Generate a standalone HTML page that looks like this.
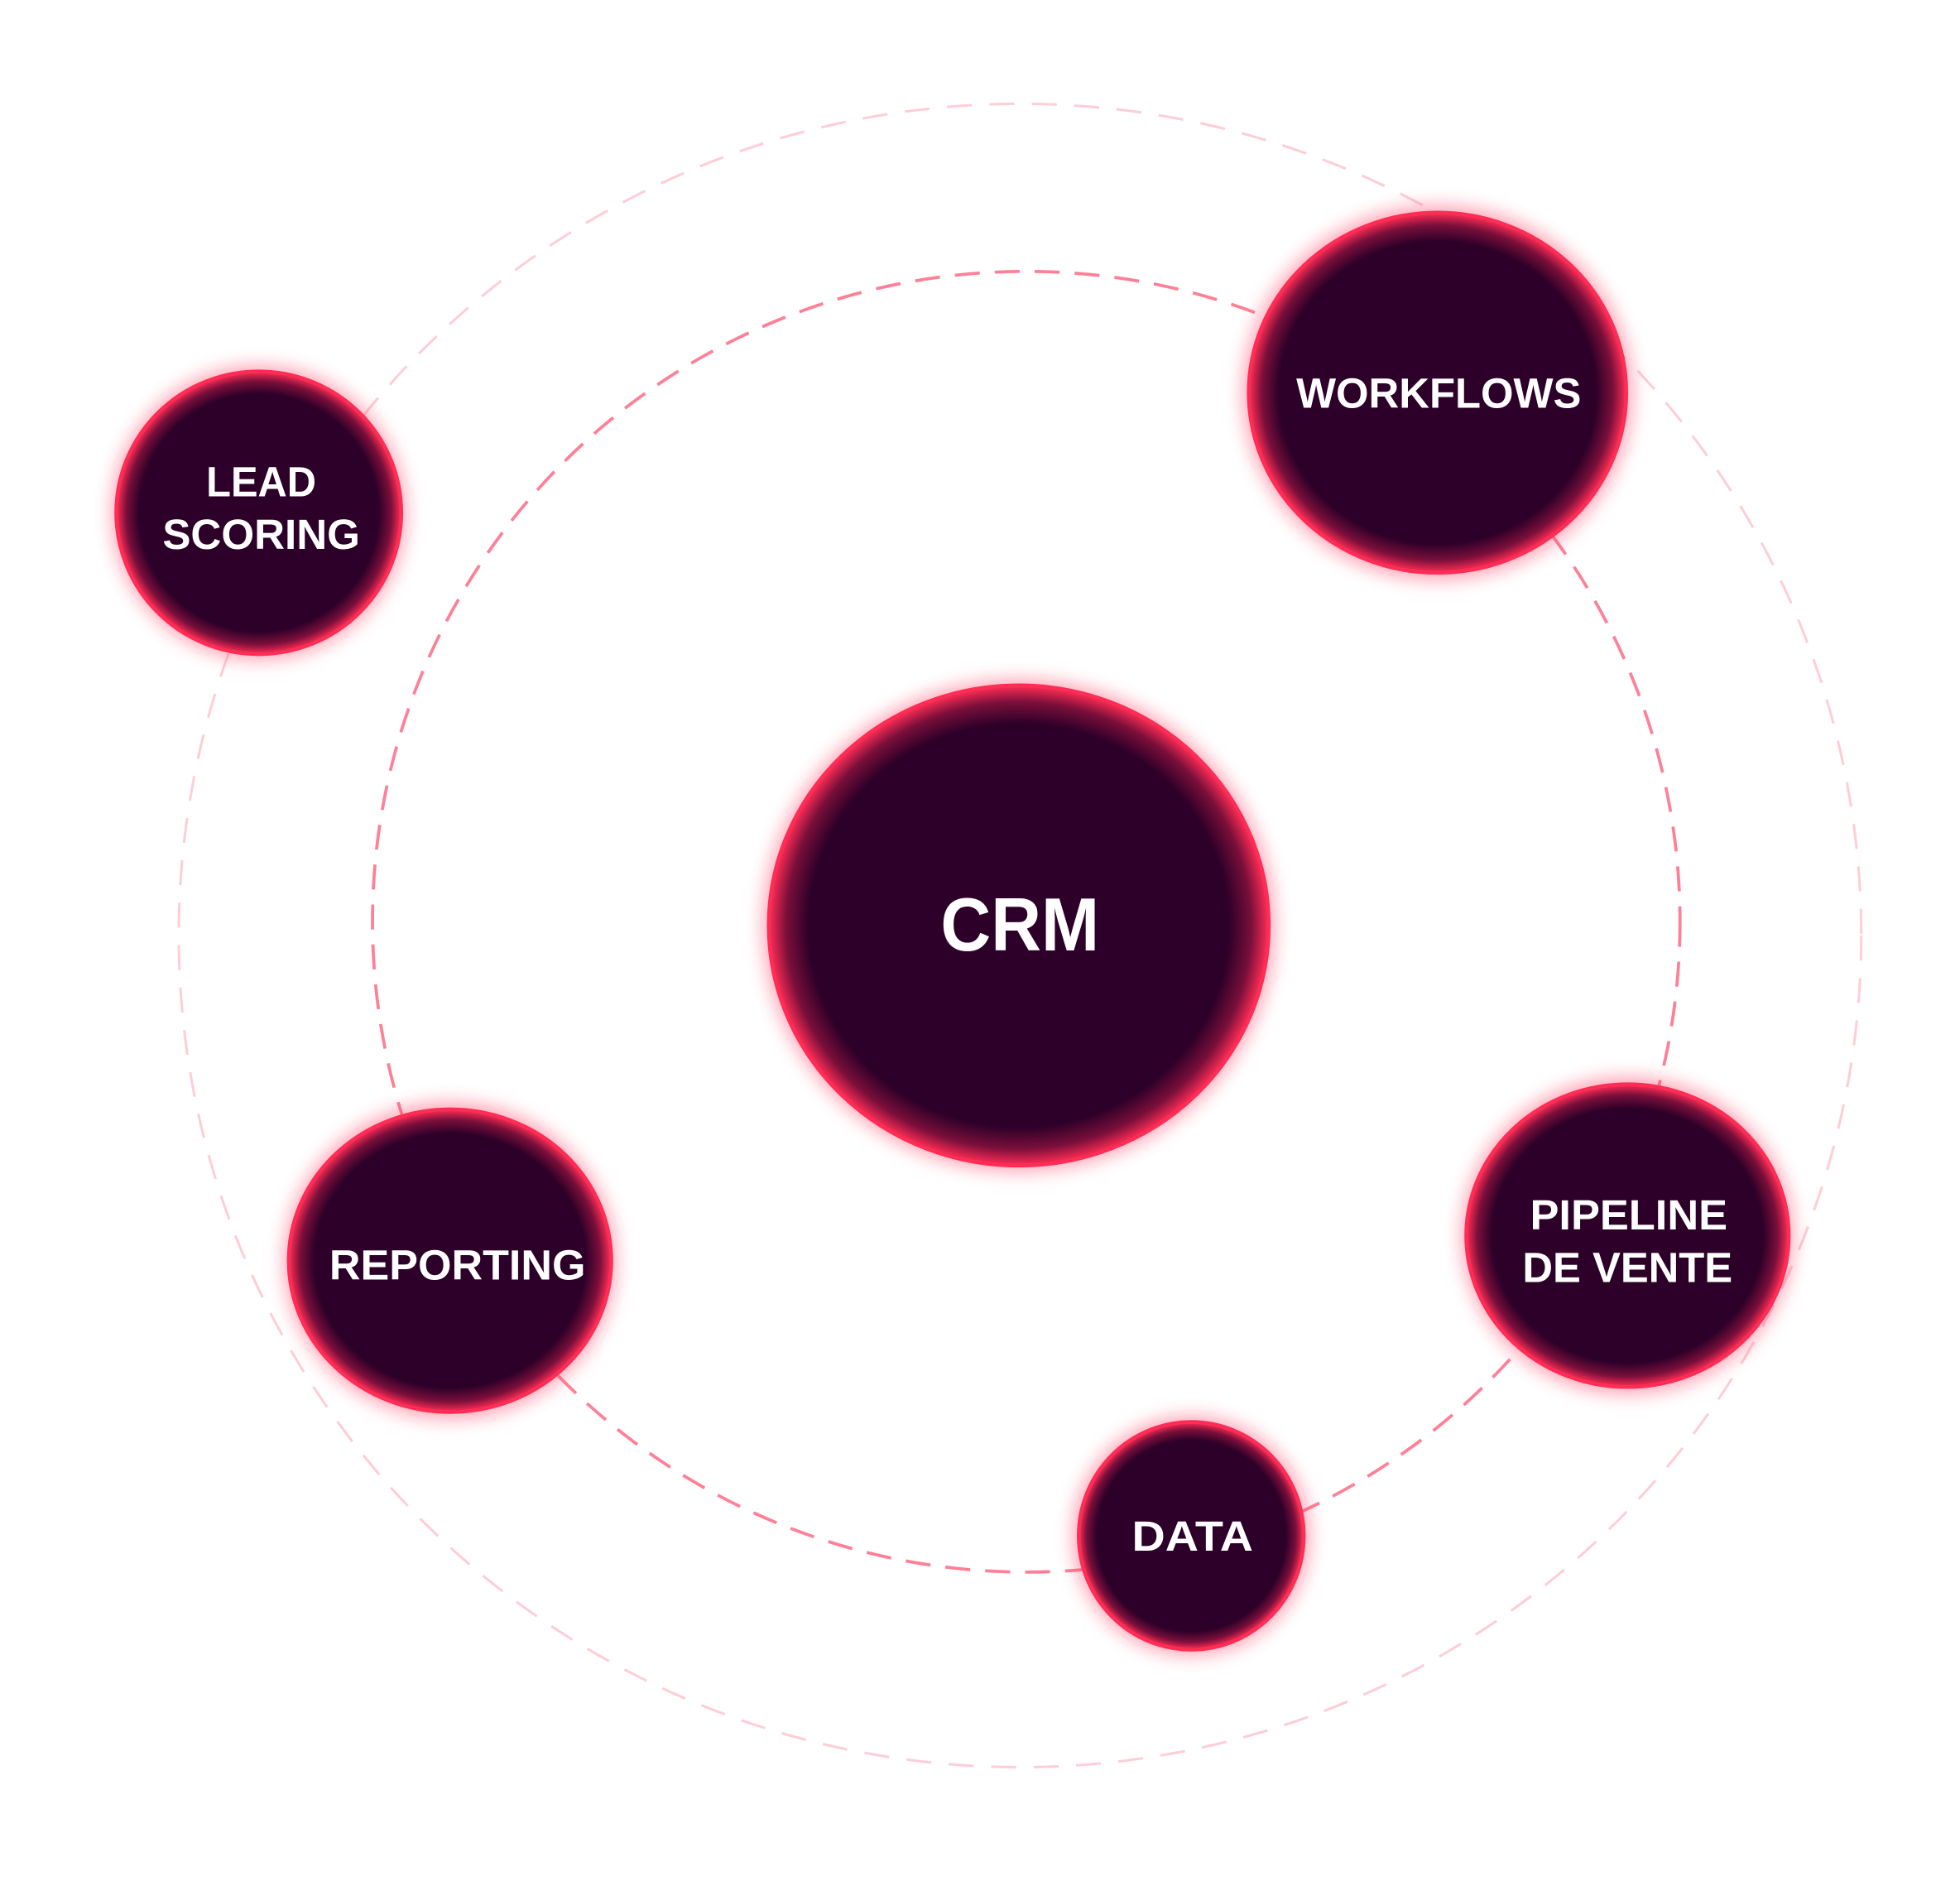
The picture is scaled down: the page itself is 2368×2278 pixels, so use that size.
<!DOCTYPE html>
<html><head><meta charset="utf-8"><style>
html,body{margin:0;padding:0;background:#fff;}
svg{display:block;}
text{font-family:"Liberation Sans",sans-serif;font-weight:bold;fill:#fff;text-anchor:middle;}
</style></head><body>
<svg width="2368" height="2278" viewBox="0 0 1568 1508" preserveAspectRatio="none" xmlns="http://www.w3.org/2000/svg">
<defs>
<radialGradient id="g" cx="50%" cy="50%" r="50%">
<stop offset="0" stop-color="#2d0029"/>
<stop offset="0.84" stop-color="#2d0029"/>
<stop offset="0.93" stop-color="#7a0f3a"/>
<stop offset="1" stop-color="#ff2d55"/>
</radialGradient>
<filter id="glow" x="-30%" y="-30%" width="160%" height="160%">
<feGaussianBlur stdDeviation="7"/>
</filter>
</defs>
<ellipse cx="816" cy="748" rx="673" ry="665" fill="none" stroke="#ffcdd5" stroke-width="2" stroke-dasharray="20 14"/>
<ellipse cx="821" cy="737" rx="523" ry="520" fill="none" stroke="#ff8096" stroke-width="2.5" stroke-dasharray="20 12"/>

<g>
<ellipse cx="815" cy="740" rx="205" ry="197" fill="#ff3b60" opacity="0.45" filter="url(#glow)"/>
<ellipse cx="815" cy="740" rx="200" ry="192" fill="url(#g)" stroke="#ff2d55" stroke-width="3"/>
<text x="816" y="760" font-size="60" textLength="127" lengthAdjust="spacingAndGlyphs">CRM</text>

<ellipse cx="1150" cy="314" rx="156" ry="150" fill="#ff3b60" opacity="0.45" filter="url(#glow)"/>
<ellipse cx="1150" cy="314" rx="151" ry="144" fill="url(#g)" stroke="#ff2d55" stroke-width="3"/>
<text x="1151" y="326" font-size="34" textLength="228" lengthAdjust="spacingAndGlyphs">WORKFLOWS</text>

<ellipse cx="207" cy="410" rx="118" ry="118" fill="#ff3b60" opacity="0.45" filter="url(#glow)"/>
<ellipse cx="207" cy="410" rx="114" ry="113" fill="url(#g)" stroke="#ff2d55" stroke-width="3"/>
<text x="209" y="397" font-size="34" textLength="88" lengthAdjust="spacingAndGlyphs">LEAD</text>
<text x="209" y="439" font-size="34" textLength="158" lengthAdjust="spacingAndGlyphs">SCORING</text>

<ellipse cx="360" cy="1008" rx="133" ry="127" fill="#ff3b60" opacity="0.45" filter="url(#glow)"/>
<ellipse cx="360" cy="1008" rx="129" ry="121" fill="url(#g)" stroke="#ff2d55" stroke-width="3"/>
<text x="366" y="1023" font-size="34" textLength="205" lengthAdjust="spacingAndGlyphs">REPORTING</text>

<ellipse cx="1302" cy="988" rx="133" ry="127" fill="#ff3b60" opacity="0.45" filter="url(#glow)"/>
<ellipse cx="1302" cy="988" rx="129" ry="121" fill="url(#g)" stroke="#ff2d55" stroke-width="3"/>
<text x="1303" y="983" font-size="34" textLength="158" lengthAdjust="spacingAndGlyphs">PIPELINE</text>
<text x="1302" y="1025" font-size="34" textLength="168" lengthAdjust="spacingAndGlyphs">DE VENTE</text>

<ellipse cx="953" cy="1228" rx="95" ry="96" fill="#ff3b60" opacity="0.45" filter="url(#glow)"/>
<ellipse cx="953" cy="1228" rx="90" ry="91" fill="url(#g)" stroke="#ff2d55" stroke-width="3"/>
<text x="954" y="1240" font-size="34" textLength="97" lengthAdjust="spacingAndGlyphs">DATA</text>
</g>
</svg>
</body></html>
